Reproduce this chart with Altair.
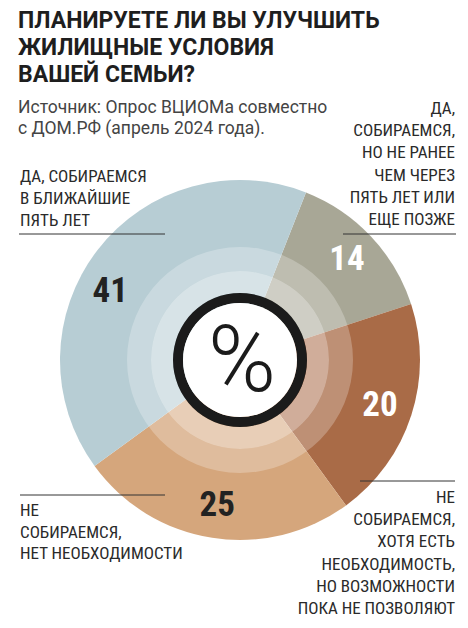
import math
import altair as alt
import pandas as pd

# ---- data ----
categories = [
    "ДА, СОБИРАЕМСЯ, НО НЕ РАНЕЕ ЧЕМ ЧЕРЕЗ ПЯТЬ ЛЕТ ИЛИ ЕЩЕ ПОЗЖЕ",
    "НЕ СОБИРАЕМСЯ, ХОТЯ ЕСТЬ НЕОБХОДИМОСТЬ, НО ВОЗМОЖНОСТИ ПОКА НЕ ПОЗВОЛЯЮТ",
    "НЕ СОБИРАЕМСЯ, НЕТ НЕОБХОДИМОСТИ",
    "ДА, СОБИРАЕМСЯ В БЛИЖАЙШИЕ ПЯТЬ ЛЕТ",
]
values = [14, 20, 25, 41]
slice_colors = ["#a8a796", "#a96b47", "#d5a67c", "#b7cdd4"]
number_colors = ["#ffffff", "#ffffff", "#222222", "#222222"]

title_lines = ["ПЛАНИРУЕТЕ ЛИ ВЫ УЛУЧШИТЬ", "ЖИЛИЩНЫЕ УСЛОВИЯ", "ВАШЕЙ СЕМЬИ?"]
source_lines = ["Источник: Опрос ВЦИОМа совместно", "с ДОМ.РФ (апрель 2024 года)."]
label_top_right = ["ДА,", "СОБИРАЕМСЯ,", "НО НЕ РАНЕЕ", "ЧЕМ ЧЕРЕЗ", "ПЯТЬ ЛЕТ ИЛИ", "ЕЩЕ ПОЗЖЕ"]
label_top_left = ["ДА, СОБИРАЕМСЯ", "В БЛИЖАЙШИЕ", "ПЯТЬ ЛЕТ"]
label_bottom_left = ["НЕ", "СОБИРАЕМСЯ,", "НЕТ НЕОБХОДИМОСТИ"]
label_bottom_right = ["НЕ", "СОБИРАЕМСЯ,", "ХОТЯ ЕСТЬ", "НЕОБХОДИМОСТЬ,", "НО ВОЗМОЖНОСТИ", "ПОКА НЕ ПОЗВОЛЯЮТ"]

df = pd.DataFrame({
    "cat": categories,
    "value": values,
    "idx": list(range(len(values))),
    "tcolor": number_colors,
})

# ---- layout ----
W, H = 452, 612
CX, CY = 232, 352
R = 180
START = math.radians(21.5)
NARROW = "Liberation Sans Narrow, Roboto Condensed, DejaVu Sans Condensed, Arial Narrow, sans-serif"

theta = alt.Theta("value:Q", stack=True,
                  scale=alt.Scale(range=[START, START + 2 * math.pi]))

pie = alt.Chart(df).mark_arc(radius=R, strokeWidth=0).encode(
    theta=theta,
    color=alt.Color("cat:N", scale=alt.Scale(domain=categories, range=slice_colors), legend=None),
    order=alt.Order("idx:Q"),
    x=alt.value(CX), y=alt.value(CY),
)


def number_layer(offset, cond):
    return alt.Chart(df).mark_text(
        radius=147, thetaOffset=offset, font=NARROW, fontWeight="bold", fontSize=35,
        baseline="middle", align="center"
    ).encode(
        theta=theta,
        text=alt.Text("value:Q"),
        color=alt.Color("tcolor:N", scale=None),
        opacity=alt.condition(cond, alt.value(1), alt.value(0)),
        order=alt.Order("idx:Q"),
        x=alt.value(CX), y=alt.value(CY),
    )


numbers_a = number_layer(0, "datum.idx < 3")
numbers_b = number_layer(-0.17, "datum.idx == 3")

one = alt.Data(values=[{"k": 1}])


def ring(r_out, r_in, color, opacity):
    return alt.Chart(one).mark_arc(
        radius=r_out, radius2=r_in, theta=0, theta2=2 * math.pi,
        color=color, opacity=opacity, strokeWidth=0
    ).encode(x=alt.value(CX), y=alt.value(CY))


ring_outer = ring(113, 89, "white", 0.25)
ring_inner = ring(89, 67, "white", 0.45)
ring_black = ring(67, 57, "#1b1b1b", 1)
disk = ring(57, 0, "white", 1)

percent = alt.Chart(one).mark_text(
    text="%", font="Roboto", fontWeight=300, fontSize=92, color="#1b1b1b",
    align="center", baseline="middle"
).encode(x=alt.value(CX + 2), y=alt.value(CY + 3))


def block(lines, x, y, align, size, lh, font=NARROW, weight="normal", color="#2a2a2a"):
    return alt.Chart(one).mark_text(
        text=lines, font=font, fontSize=size, fontWeight=weight, color=color,
        align=align, baseline="alphabetic", lineHeight=lh
    ).encode(x=alt.value(x), y=alt.value(y))


def hrule(x1, x2, y):
    return alt.Chart(one).mark_rule(color="#333333", strokeWidth=1).encode(
        x=alt.value(x1), x2=alt.value(x2), y=alt.value(y))


title = block(title_lines, 10, 20, "left", 23, 27, font="Roboto", weight="bold", color="#1e1e1e")
source = block(source_lines, 10, 105, "left", 17.5, 21, font="Roboto", color="#444444")
t_tr = block(label_top_right, 447, 106, "right", 17, 22.2)
t_tl = block(label_top_left, 12, 174, "left", 17, 22)
t_bl = block(label_bottom_left, 12, 508, "left", 17, 21.7)
t_br = block(label_bottom_right, 447, 495, "right", 17, 22.2)

rules = [hrule(335, 448, 226), hrule(11, 157, 226), hrule(12, 157, 487), hrule(352, 447, 473)]

chart = alt.layer(
    pie, ring_outer, ring_inner, ring_black, disk, percent, numbers_a, numbers_b,
    title, source, t_tr, t_tl, t_bl, t_br, *rules
).resolve_scale(color="independent").properties(
    width=W, height=H, autosize=alt.AutoSizeParams(type="none"), padding=0,
    background="white"
).configure_view(stroke=None)

chart.save("out.html", embed_options={"renderer": "svg", "actions": False})
